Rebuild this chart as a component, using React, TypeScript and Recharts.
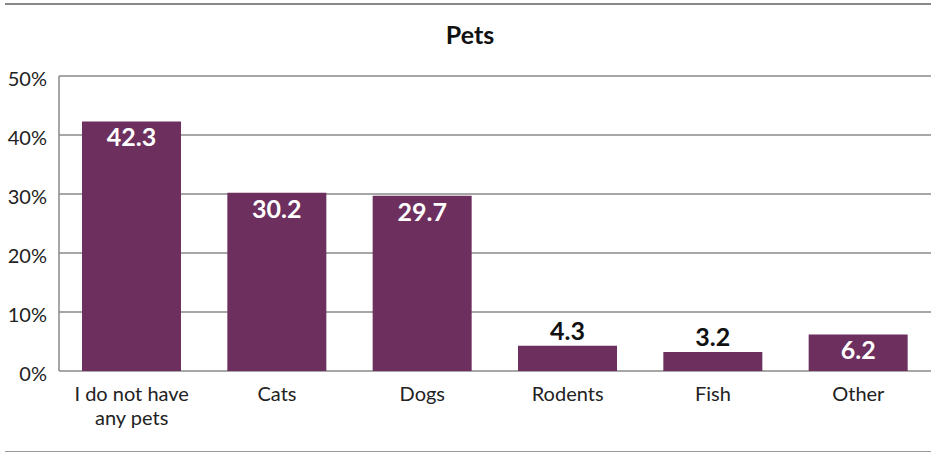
import React from 'react'
import { BarChart, Bar, XAxis, YAxis, CartesianGrid, LabelList } from 'recharts'

const categories = ['I do not have any pets', 'Cats', 'Dogs', 'Rodents', 'Fish', 'Other']
const shares = [42.3, 30.2, 29.7, 4.3, 3.2, 6.2]
const yTicks = [0, 10, 20, 30, 40, 50]

const data = categories.map((name, i) => ({ name, value: shares[i] }))

const FONT = 'Lato, "Open Sans", sans-serif'
const BAR_COLOR = '#6D2F5E'
const GRID = '#8a8a8a'

// wrap long category names over two lines
const wrap = (text: string, max = 14) => {
  const lines: string[] = []
  let cur = ''
  text.split(' ').forEach((w) => {
    if (cur && (cur + ' ' + w).length > max) {
      lines.push(cur)
      cur = w
    } else {
      cur = cur ? cur + ' ' + w : w
    }
  })
  if (cur) lines.push(cur)
  return lines
}

const XTick = (props: any) => {
  const { x, y, payload } = props
  const lines = wrap(payload.value)
  return (
    <text x={x} y={y} textAnchor="middle" fontFamily={FONT} fontSize={20} fill="#222">
      {lines.map((l, i) => (
        <tspan key={i} x={x} dy={i === 0 ? 22 : 24}>{l}</tspan>
      ))}
    </text>
  )
}

const YTick = (props: any) => {
  const { x, y, payload } = props
  return (
    <text x={x} y={y} dy={10} textAnchor="end" fontFamily={FONT} fontSize={20} fill="#222">
      {`${payload.value}%`}
    </text>
  )
}

const ValueLabel = (props: any) => {
  const { x, y, width, height, value } = props
  const inside = height > 30
  return (
    <text
      x={x + width / 2}
      y={inside ? y + 17 : y - 14}
      dy={8}
      textAnchor="middle"
      fontFamily={FONT}
      fontWeight={700}
      fontSize={25}
      fill={inside ? '#fff' : '#111'}
    >
      {value.toFixed(1)}
    </text>
  )
}

const App: React.FC = () => {
  return (
    <div style={{ position: 'absolute', left: 0, top: 0, width: 931, height: 453, background: '#fff' }}>
      <div style={{ position: 'absolute', left: 5, right: 0, top: 3, height: 2, background: '#888' }} />
      <div style={{ position: 'absolute', left: 5, right: 0, top: 451, height: 1, background: '#999' }} />
      <div
        style={{
          position: 'absolute',
          left: 0,
          width: 940,
          top: 19,
          textAlign: 'center',
          fontFamily: FONT,
          fontWeight: 700,
          fontSize: 25,
          color: '#111',
        }}
      >
        Pets
      </div>
      <BarChart
        width={931}
        height={453}
        data={data}
        margin={{ top: 76, right: 0, bottom: 22, left: 0 }}
        barSize={99}
      >
        <CartesianGrid vertical={false} stroke={GRID} strokeWidth={1.5} />
        <XAxis
          dataKey="name"
          axisLine={false}
          tickLine={false}
          interval={0}
          height={60}
          tick={<XTick />}
        />
        <YAxis
          width={59}
          domain={[0, 50]}
          ticks={yTicks}
          axisLine={{ stroke: GRID, strokeWidth: 1.5 }}
          tickLine={false}
          tickSize={0}
          tickMargin={12}
          tick={<YTick />}
        />
        <Bar dataKey="value" fill={BAR_COLOR} isAnimationActive={false}>
          <LabelList dataKey="value" content={<ValueLabel />} />
        </Bar>
      </BarChart>
    </div>
  )
}

export default App
